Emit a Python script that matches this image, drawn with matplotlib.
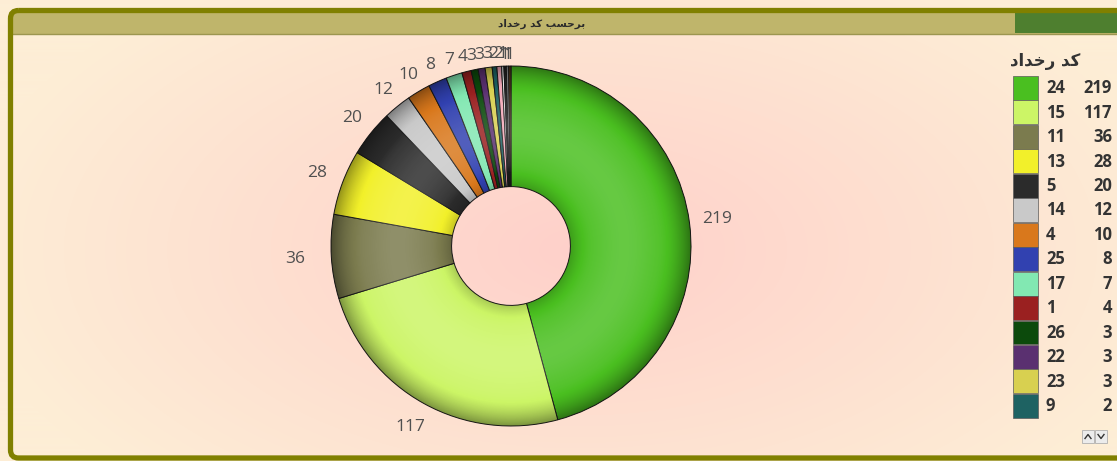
import numpy as np
import matplotlib.pyplot as plt
from matplotlib.patches import Rectangle, FancyBboxPatch, Wedge

# legend entries (code -> count), in the order of the legend
codes = ['24', '15', '11', '13', '5', '14', '4', '25', '17', '1', '26', '22', '23', '9']
counts = [219, 117, 36, 28, 20, 12, 10, 8, 7, 4, 3, 3, 3, 2]
colors = ['#4abf20', '#ccf566', '#7b7b4e', '#f2f02a', '#2b2b2b', '#c9c9c9', '#d9781c',
          '#3141b0', '#82e8b2', '#9a2020', '#0c4a0c', '#5a3070', '#d8d050', '#1e6262']
# slices whose legend rows are scrolled out of view
extra_counts = [2, 1, 1, 1, 1]
extra_colors = ['#f4a9b8', '#f2f2f2', '#222222', '#8a8a8a', '#5a3a1a']

# Persian text, pre-shaped with presentation forms and put in visual order
title_txt = '\uFEA9\uFE8D\uFEAA\uFEA7\uFEAD \uFEAA\uFB90 \uFE90\uFEB4\uFEA3\uFEAE\uFE91'
legend_title = '\uFEA9\uFE8D\uFEAA\uFEA7\uFEAD \uFEAA\uFB90'

W, H = 1117, 461
cx, cy, R = 511, 246, 180  # pie centre / radius in pixels

fig = plt.figure(figsize=(W / 100, H / 100), dpi=100)

# background axes in pixel coords
bg = fig.add_axes([0, 0, 1, 1])
bg.set_xlim(0, W)
bg.set_ylim(H, 0)
bg.axis('off')

yy, xx = np.mgrid[0:H, 0:W]
d = np.clip(np.sqrt(((xx - 580) / 620.0) ** 2 + ((yy - 250) / 330.0) ** 2), 0, 1)[..., None]
c_in = np.array([255, 208, 202]) / 255.0
c_out = np.array([253, 238, 214]) / 255.0
bg.imshow(c_in * (1 - d) + c_out * d, extent=(0, W, H, 0), aspect='auto', zorder=0)

# frame and title bar
bg.add_patch(Rectangle((12, 12), 1120, 22, fc='#bfb56b', ec='none', zorder=1))
bg.plot([12, W], [34.5, 34.5], color='#9c9650', lw=1, zorder=2)
bg.add_patch(Rectangle((1015, 12), 110, 21, fc='#4e7f2f', ec='none', zorder=2))
bg.add_patch(FancyBboxPatch((10.5, 10.5), 1200, 447.5, boxstyle='round,pad=0,rounding_size=8',
                            fc='none', ec='#808000', lw=3.8, zorder=3))
bg.text(542, 23.5, title_txt, ha='center', va='center', fontsize=7.5, fontweight='bold',
        color='#2a2a2a', family='DejaVu Sans', zorder=4)

# legend
bg.text(1045, 61, legend_title, ha='center', va='center', fontsize=12, fontweight='bold',
        color='#333333', family='DejaVu Sans')
row_h = 24.45
for i in range(len(codes)):
    y0 = 76 + i * row_h
    bg.add_patch(Rectangle((1013, y0), 25, row_h - 0.5, fc=colors[i], ec='#5a5a5a', lw=0.5))
    bg.text(1046, y0 + row_h / 2, codes[i], ha='left', va='center', fontsize=12,
            fontweight='bold', color='#333333', family='Open Sans')
    bg.text(1112, y0 + row_h / 2, str(counts[i]), ha='right', va='center', fontsize=12,
            fontweight='bold', color='#333333', family='Open Sans')

# little scroll buttons
for x0, up in [(1082, True), (1095, False)]:
    bg.add_patch(Rectangle((x0, 430), 12, 13, fc='#ececec', ec='#b0b0b0', lw=0.6))
    mx = x0 + 6
    if up:
        bg.plot([mx - 3, mx, mx + 3], [438.5, 434.5, 438.5], color='#333333', lw=1)
    else:
        bg.plot([mx - 3, mx, mx + 3], [434.5, 438.5, 434.5], color='#333333', lw=1)

# pie axes: full figure, 1 data unit == R pixels
pax = fig.add_axes([0, 0, 1, 1])
all_counts = counts + extra_counts
all_colors = colors + extra_colors
hole = 0.33
wedges, texts = pax.pie(all_counts, colors=all_colors, startangle=90, counterclock=False,
                        labels=[str(v) for v in all_counts], labeldistance=1.1,
                        wedgeprops=dict(width=1 - hole, edgecolor='#1a1a1a', linewidth=0.7),
                        textprops=dict(color='#505050', fontsize=12.5, family='Open Sans'))

# put labels just outside the ring, a bit further out at the sides
for w, t in zip(wedges, texts):
    a = np.deg2rad((w.theta1 + w.theta2) / 2)
    dist = 1 + (11 + 17 * abs(np.cos(a)) + (8 if np.sin(a) < 0 else 0)) / R
    t.set_position((dist * np.cos(a), dist * np.sin(a)))
    t.set_ha('center')
    t.set_va('center')

# 3d-ish shading over the ring
g = np.linspace(-1, 1, 500)
gx, gy = np.meshgrid(g, g)
r = np.sqrt(gx ** 2 + gy ** 2)
tt = (r - hole) / (1 - hole)
s = 0.16 * np.exp(-((tt - 0.45) / 0.3) ** 2)
s -= 0.4 * np.clip((tt - 0.72) / 0.28, 0, 1) ** 2
s -= 0.2 * np.clip((0.2 - tt) / 0.2, 0, 1) ** 2
shade = np.zeros(gx.shape + (4,))
shade[..., :3] = np.where(s[..., None] > 0, 1.0, 0.0)
shade[..., 3] = np.abs(s)
im = pax.imshow(shade, extent=(-1, 1, -1, 1), origin='lower', interpolation='bilinear', zorder=3)
ring = Wedge((0, 0), 1, 0, 360, width=1 - hole, transform=pax.transData)
im.set_clip_path(ring)
pax.set_xlim(-cx / R, (W - cx) / R)
pax.set_ylim(-(H - cy) / R, cy / R)
pax.set_aspect('auto')
pax.axis('off')

fig.savefig('out.png', dpi=100)
